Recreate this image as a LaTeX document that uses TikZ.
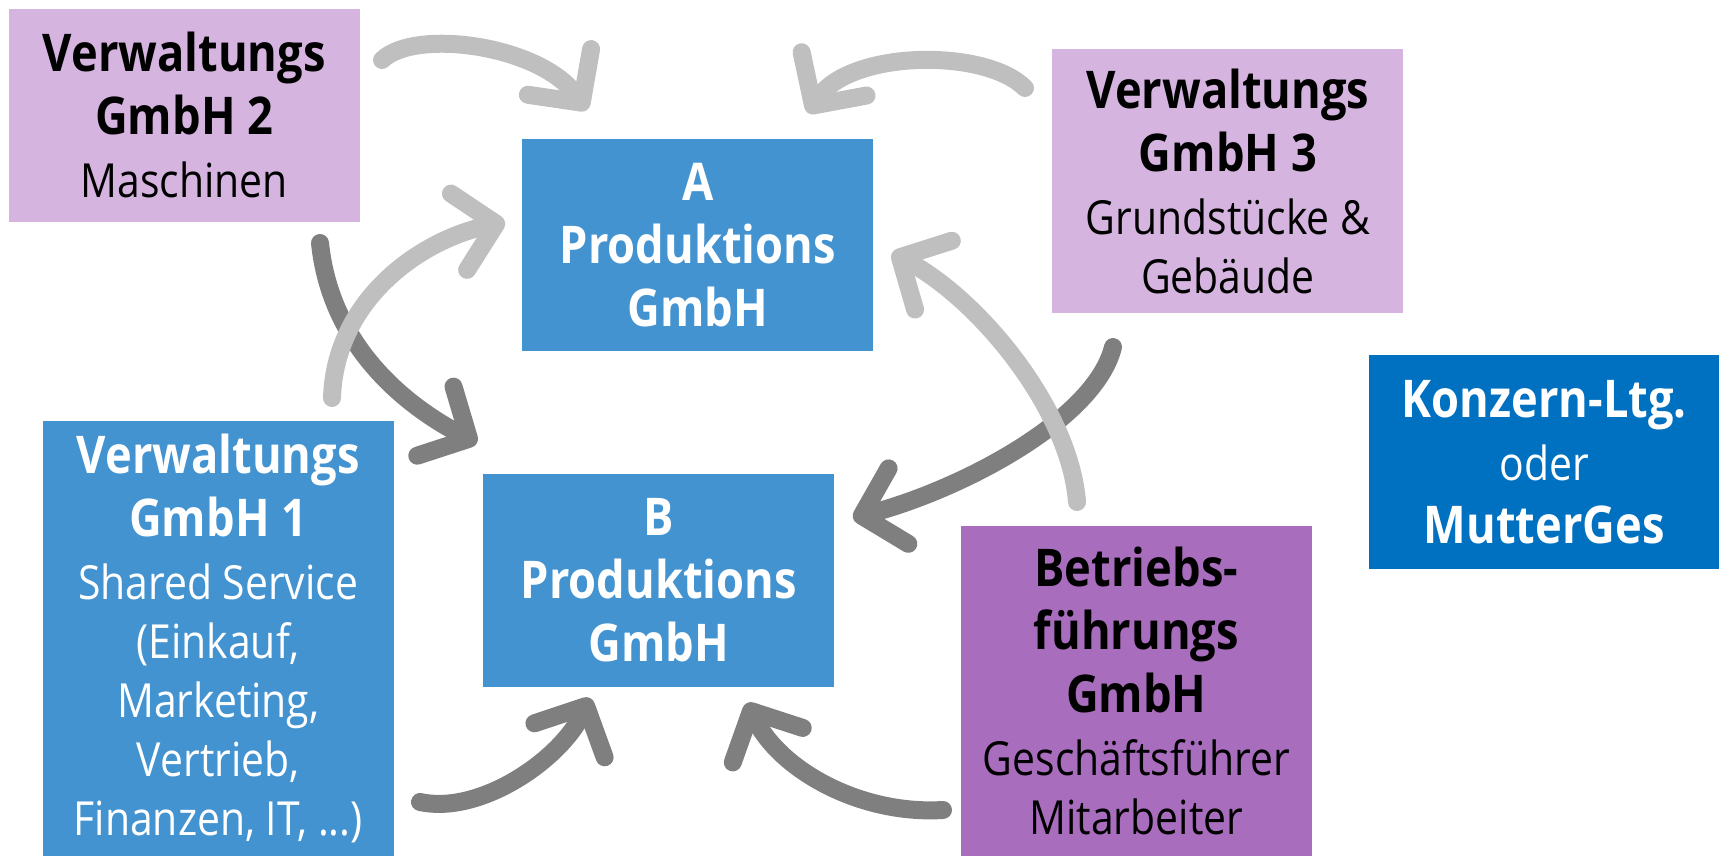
\documentclass[tikz,border=0pt]{standalone}
\usepackage{fontspec}
\setmainfont{Open Sans}[FakeStretch=0.87]
\usetikzlibrary{arrows.meta}

\definecolor{lilac}{HTML}{D5B5DF}
\definecolor{violet}{HTML}{A96DBD}
\definecolor{midblue}{HTML}{4393D0}
\definecolor{deepblue}{HTML}{0070C0}
\definecolor{arrowlight}{HTML}{BFBFBF}
\definecolor{arrowdark}{HTML}{7F7F7F}

\newcommand{\subline}[1]{{\mdseries\fontsize{47}{59}\selectfont #1}}

\begin{document}
\begin{tikzpicture}[x=1pt,y=-1pt,
  unit/.style={inner sep=0pt, minimum width=351pt, align=center,
    font=\fontsize{52}{63}\selectfont\bfseries},
  lightunit/.style={unit, fill=lilac, text=black},
  blueunit/.style={unit, fill=midblue, text=white},
  flow/.style={line width=18pt, line cap=round,
    -{Straight Barb[length=38pt,width=78pt,round]}},
  flowlight/.style={flow, draw=arrowlight},
  flowdark/.style={flow, draw=arrowdark}]

\useasboundingbox (0,0) rectangle (1719,856);

% company boxes
\node[lightunit, minimum height=213pt] (g2) at (184.2,115.2)
  {Verwaltungs\\GmbH 2\\\subline{Maschinen}};
\node[blueunit, minimum height=212pt] (pa) at (697.8,245)
  {A\\Produktions\\GmbH};
\node[lightunit, minimum height=264pt] (g3) at (1227.9,181.4)
  {Verwaltungs\\GmbH 3\\\subline{Grundstücke \&}\\[-4pt]\subline{Gebäude}};
\node[unit, fill=deepblue, text=white, minimum height=214pt] (kl) at (1544.2,462.1)
  {Konzern-Ltg.\\\subline{oder}\\MutterGes};
\node[blueunit, minimum height=435pt] (g1) at (218.2,638.5)
  {Verwaltungs\\GmbH 1\\\subline{Shared Service}\\[-4pt]\subline{(Einkauf,}\\[-4pt]%
   \subline{Marketing,}\\[-4pt]\subline{Vertrieb,}\\[-4pt]\subline{Finanzen, IT, ...)}};
\node[blueunit, minimum height=213pt] (pb) at (658.9,580)
  {B\\Produktions\\GmbH};
\node[unit, fill=violet, text=black, minimum height=330pt] (bf) at (1136.3,691.1)
  {Betriebs-\\führungs\\GmbH\\\subline{Geschäftsführer}\\[-4pt]\subline{Mitarbeiter}};

% end points of the service flows
\coordinate (s1) at (382,60);    \coordinate (e1) at (587,110);
\coordinate (s2) at (1025,88);   \coordinate (e2) at (808,113);
\coordinate (s3) at (332,398);   \coordinate (e3) at (505,222);
\coordinate (s4) at (320,243);   \coordinate (e4) at (477,443);
\coordinate (s5) at (420,802);   \coordinate (e5) at (590,698);
\coordinate (s6) at (943,810);   \coordinate (e6) at (747,703);
\coordinate (s7) at (1077,502);  \coordinate (e7) at (892,253);
\coordinate (s8) at (1113,347);  \coordinate (e8) at (853,518);

% flows towards B (drawn first, they pass below the others)
\draw[flowdark] (s4) .. controls (330,340) and (397,401) .. (e4);
\draw[flowdark] (s5) .. controls (480,815) and (560,760) .. (e5);
\draw[flowdark] (s6) .. controls (860,815) and (780,770) .. (e6);
\draw[flowdark] (s8) .. controls (1095,420) and (960,490) .. (e8);

% flows towards A
\draw[flowlight] (s1) .. controls (415,28) and (540,45) .. (e1);
\draw[flowlight] (s2) .. controls (985,48) and (850,50) .. (e2);
\draw[flowlight] (s3) .. controls (335,300) and (420,240) .. (e3);
\draw[flowlight] (s7) .. controls (1070,410) and (980,300) .. (e7);
\end{tikzpicture}
\end{document}
